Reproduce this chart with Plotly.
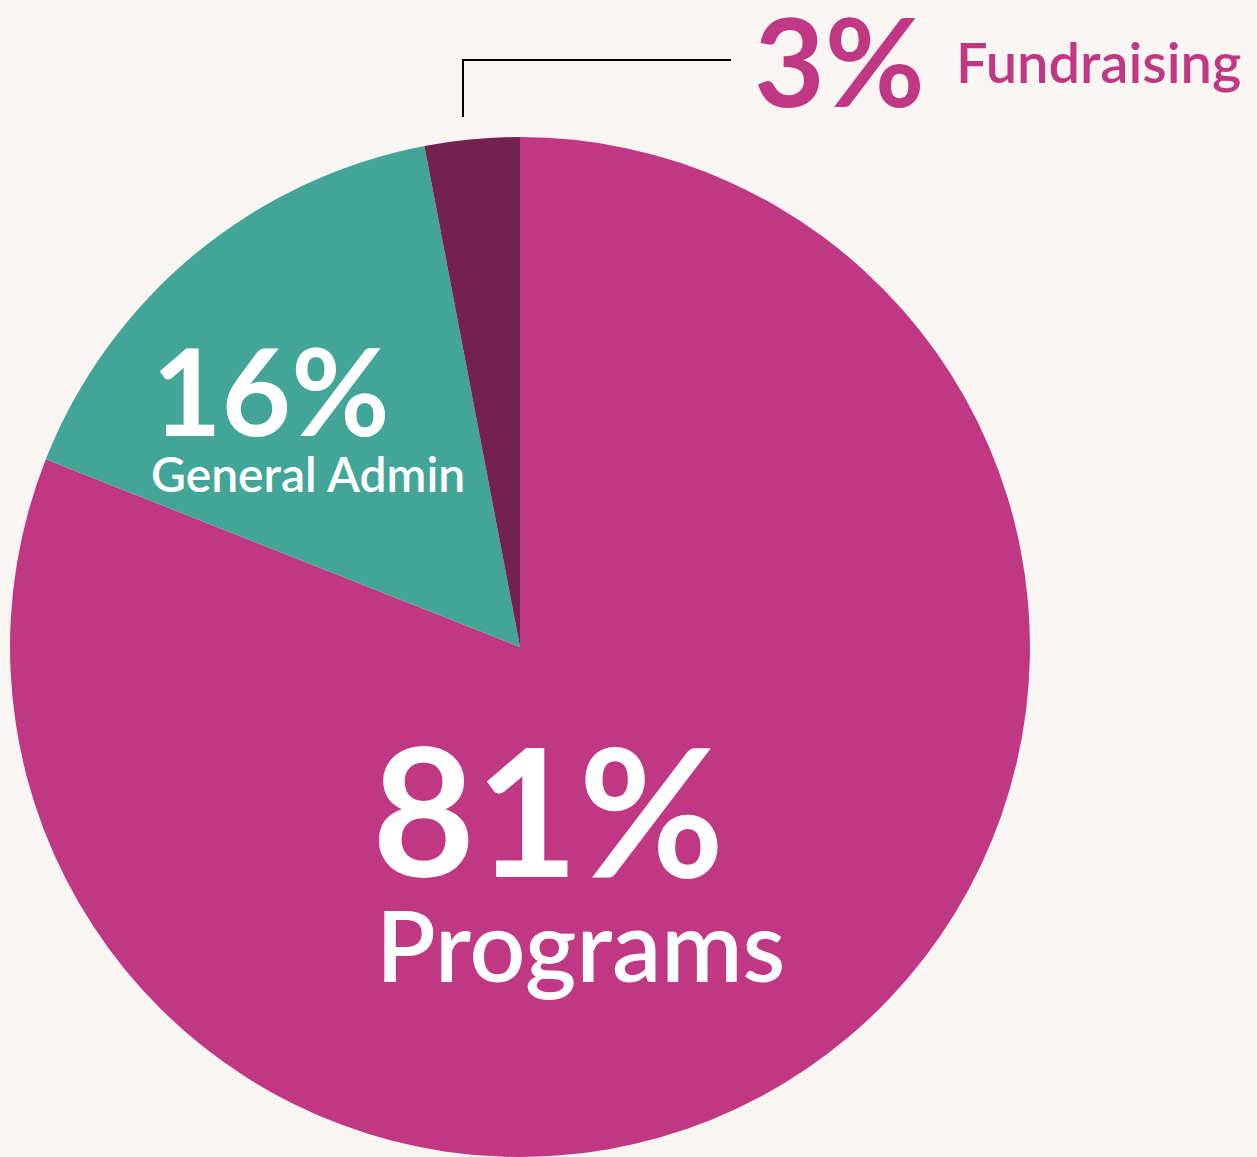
import plotly.graph_objects as go

categories = ["Programs", "General Admin", "Fundraising"]
values = [81, 16, 3]
colors = ["#C03884", "#43A597", "#732250"]

W, H = 1257, 1157

def px(x):
    return x / W

def py(y):
    return 1 - y / H

fig = go.Figure(go.Pie(
    labels=categories,
    values=values,
    sort=False,
    direction="clockwise",
    rotation=0,
    marker=dict(colors=colors, line=dict(width=0)),
    textinfo="none",
    hoverinfo="label+percent",
    domain=dict(x=[px(8), px(1032)], y=[0, 2 * py(647)]),
    showlegend=False,
))

FONT = "Lato"
ann = []
# Fundraising (outside)
ann.append(dict(x=px(752), y=py(60), text=f"<b>{values[2]}%</b>", font=dict(family=FONT, size=122, color="#C03884"),
                xanchor="left", yanchor="middle"))
ann.append(dict(x=px(954), y=py(62), text=categories[2], font=dict(family=FONT, size=56, color="#C03884", weight=600),
                xanchor="left", yanchor="middle"))
# General Admin
ann.append(dict(x=px(150), y=py(390), text=f"<b>{values[1]}%</b>", font=dict(family=FONT, size=120, color="white"),
                xanchor="left", yanchor="middle"))
ann.append(dict(x=px(149), y=py(473), text=categories[1], font=dict(family=FONT, size=48, color="white", weight=600),
                xanchor="left", yanchor="middle"))
# Programs
ann.append(dict(x=px(548), y=py(808), text=f"<b>{values[0]}%</b>", font=dict(family=FONT, size=178, color="white"),
                xanchor="center", yanchor="middle"))
ann.append(dict(x=px(580), y=py(944), text=categories[0], font=dict(family=FONT, size=98, color="white", weight=600),
                xanchor="center", yanchor="middle"))

for a in ann:
    a.update(xref="paper", yref="paper", showarrow=False)

fig.update_layout(
    width=W, height=H,
    margin=dict(l=0, r=0, t=0, b=0),
    paper_bgcolor="#F9F5F3",
    plot_bgcolor="#F9F5F3",
    annotations=ann,
    shapes=[dict(type="path", xref="paper", yref="paper",
                 path=f"M {px(463)} {py(117)} L {px(463)} {py(60)} L {px(731)} {py(60)}",
                 line=dict(color="black", width=2))],
)

fig.write_html("out.html")
